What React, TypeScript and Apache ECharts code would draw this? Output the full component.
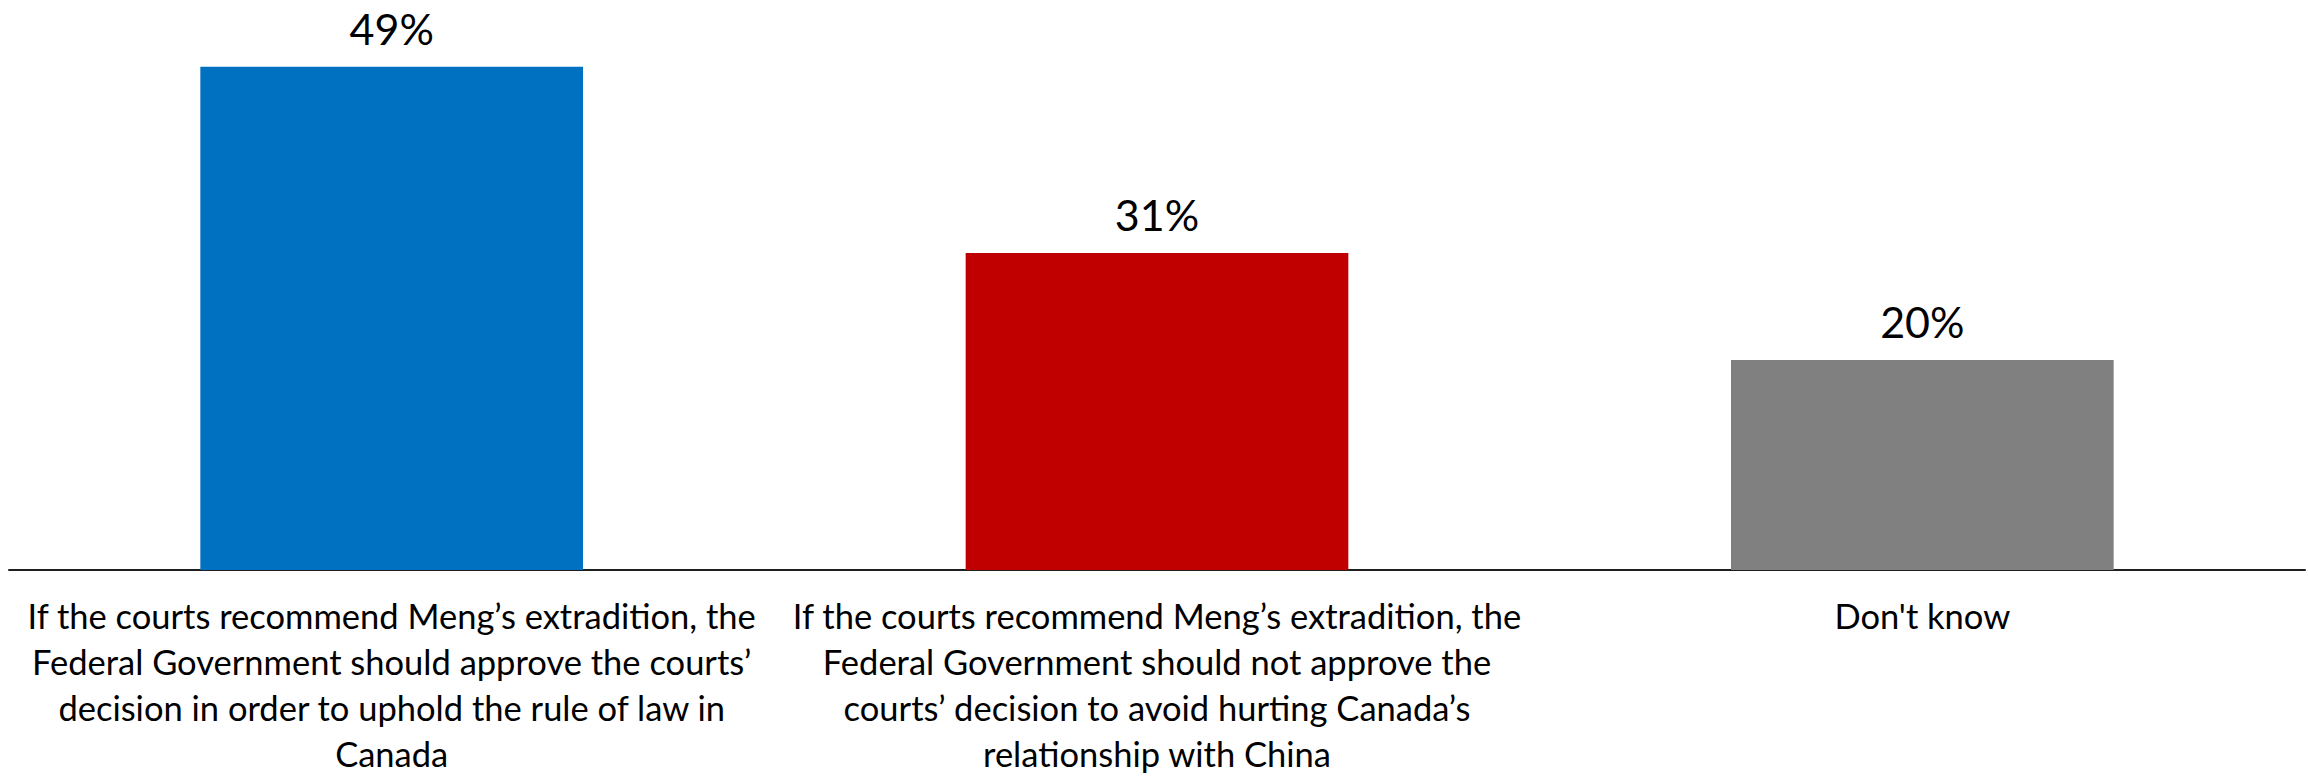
import React, { useEffect, useRef } from "react";
import * as echarts from "echarts";

const categories: string[] = [
  "If the courts recommend Meng\u2019s extradition, the\nFederal Government should approve the courts\u2019\ndecision in order to uphold the rule of law in\nCanada",
  "If the courts recommend Meng\u2019s extradition, the\nFederal Government should not approve the\ncourts\u2019 decision to avoid hurting Canada\u2019s\nrelationship with China",
  "Don't know",
];
const values: number[] = [48.9, 30.8, 20.4];
const barColors: string[] = ["#0070C0", "#C00000", "#808080"];

export default function App() {
  const ref = useRef<HTMLDivElement>(null);
  useEffect(() => {
    document.body.style.margin = "0";
    if (!ref.current) return;
    const chart = echarts.init(ref.current, null, { renderer: "svg" });
    chart.setOption({
      animation: false,
      backgroundColor: "#ffffff",
      grid: { left: 9, right: 3, top: 55.5, bottom: 203, containLabel: false },
      xAxis: {
        type: "category",
        data: categories,
        boundaryGap: true,
        axisLine: { show: true, lineStyle: { color: "#1f1f1f", width: 2 } },
        axisTick: { show: false },
        axisLabel: {
          interval: 0,
          margin: 22,
          fontFamily: "Lato",
          fontSize: 34.5,
          lineHeight: 46,
          color: "#000000",
          align: "center",
        },
      },
      yAxis: {
        type: "value",
        min: 0,
        max: 50,
        show: false,
        splitLine: { show: false },
      },
      series: [
        {
          type: "bar",
          barWidth: "50%",
          data: values.map((v, i) => ({ value: v, itemStyle: { color: barColors[i] } })),
          label: {
            show: true,
            position: "top",
            distance: 17,
            fontFamily: "Lato",
            fontSize: 43,
            color: "#000000",
            formatter: (p: any) => Math.round(p.value) + "%",
          },
        },
      ],
    });
    return () => chart.dispose();
  }, []);
  return <div ref={ref} style={{ width: 2308, height: 776 }} />;
}
